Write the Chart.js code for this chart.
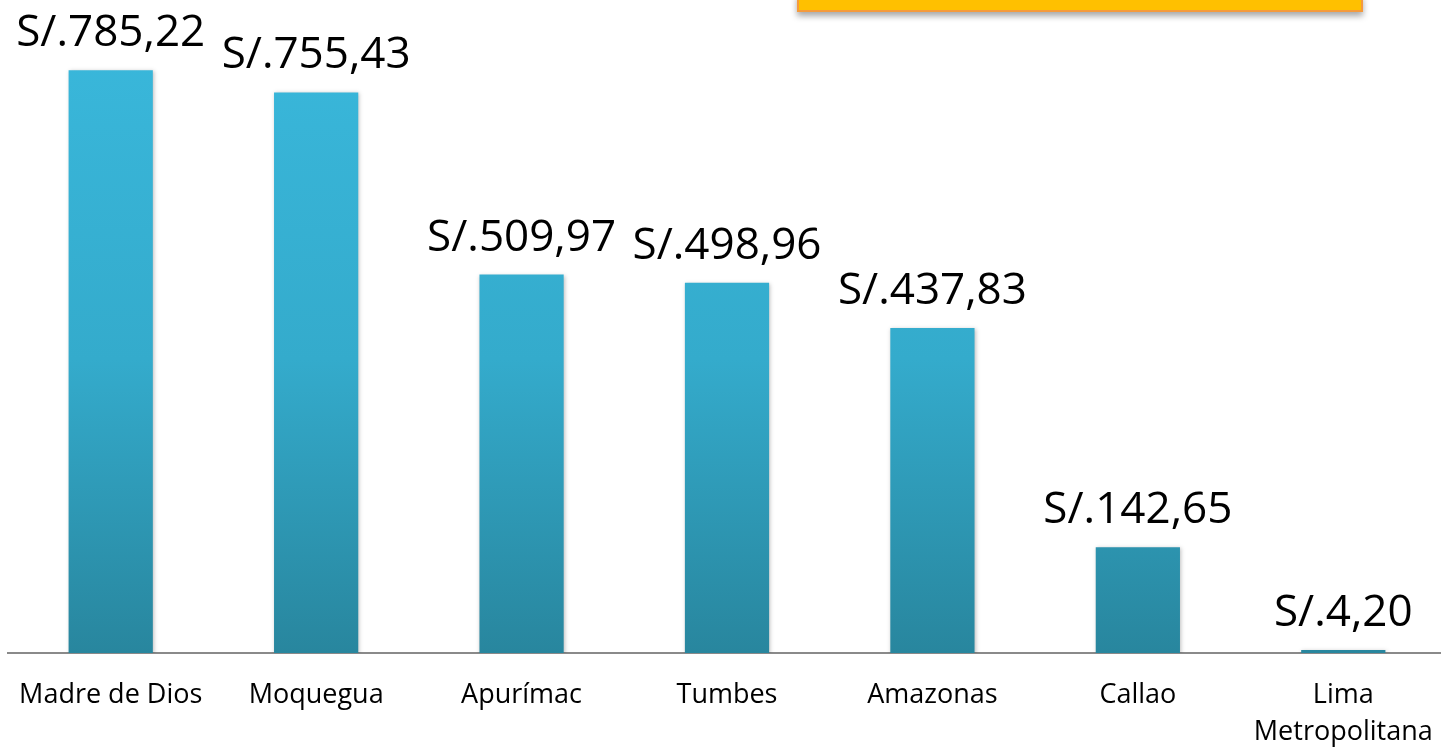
<!DOCTYPE html>
<html>
<head>
<meta charset="utf-8">
<script src="https://cdn.jsdelivr.net/npm/chart.js@4/dist/chart.umd.min.js"></script>
<style>
    html, body { margin: 0; padding: 0; background: #ffffff; overflow: hidden; }
    #wrap { position: relative; width: 1441px; height: 748px; overflow: hidden; }
    #banner {
        position: absolute; left: 797px; top: -6px; width: 562px; height: 14px;
        background: #ffc000; border: 2px solid #f59a3c;
        box-shadow: 0 4px 6px rgba(0, 0, 0, 0.35);
    }
    canvas { position: absolute; left: 0; top: 0; }
</style>
</head>
<body>
<div id="wrap">
    <canvas id="chart" width="1446" height="748"></canvas>
    <div id="banner"></div>
</div>
<script>
const categories = ['Madre de Dios', 'Moquegua', 'Apurímac', 'Tumbes', 'Amazonas', 'Callao', ['Lima', 'Metropolitana']];
const values = [785.22, 755.43, 509.97, 498.96, 437.83, 142.65, 4.20];

document.addEventListener('DOMContentLoaded', function() {
    const canvas = document.getElementById('chart');
    const ctx = canvas.getContext('2d');

    // vertical gradient for the bars, built once the chart area is known
    function barGradient(context) {
        const area = context.chart.chartArea;
        if (!area) return '#35b0d4';
        const g = context.chart.ctx.createLinearGradient(0, area.top, 0, area.bottom);
        g.addColorStop(0, '#3ab9dd');
        g.addColorStop(0.55, '#34abcc');
        g.addColorStop(1, '#28869e');
        return g;
    }

    // value labels above each bar
    const valueLabels = {
        id: 'valueLabels',
        afterDatasetsDraw(chart) {
            const c = chart.ctx;
            const meta = chart.getDatasetMeta(0);
            c.save();
            c.font = '44px "Open Sans"';
            c.fillStyle = '#000000';
            c.textAlign = 'center';
            c.textBaseline = 'alphabetic';
            meta.data.forEach((bar, i) => {
                const txt = 'S/.' + values[i].toFixed(2).replace('.', ',');
                c.fillText(txt, bar.x, bar.y - 24);
            });
            c.restore();
        }
    };

    // soft shadow behind bars
    const barShadow = {
        id: 'barShadow',
        beforeDatasetsDraw(chart) {
            chart.ctx.save();
            chart.ctx.shadowColor = 'rgba(0,0,0,0.25)';
            chart.ctx.shadowBlur = 4;
            chart.ctx.shadowOffsetX = 1;
            chart.ctx.shadowOffsetY = 1;
        },
        afterDatasetsDraw(chart) {
            chart.ctx.restore();
        }
    };

    new Chart(ctx, {
        type: 'bar',
        data: {
            labels: categories,
            datasets: [{
                data: values,
                backgroundColor: barGradient,
                borderWidth: 0,
                barPercentage: 0.41,
                categoryPercentage: 1.0
            }]
        },
        options: {
            responsive: false,
            animation: false,
            layout: {
                padding: { left: 8, right: 0, top: 0, bottom: 0 }
            },
            scales: {
                x: {
                    grid: { display: false },
                    border: { display: true, color: '#8a8a8a', width: 2 },
                    ticks: {
                        color: '#000000',
                        font: { family: '"Open Sans"', size: 27, lineHeight: 1.37 },
                        padding: 16,
                        maxRotation: 0,
                        autoSkip: false
                    },
                    afterFit: function(scale) {
                        scale.height = 95;
                        scale.paddingLeft = 0;
                        scale.paddingRight = 0;
                    }
                },
                y: {
                    display: false,
                    min: 0,
                    max: 880
                }
            },
            plugins: {
                legend: { display: false },
                tooltip: { enabled: false }
            }
        },
        plugins: [barShadow, valueLabels]
    });
});
</script>
</body>
</html>
